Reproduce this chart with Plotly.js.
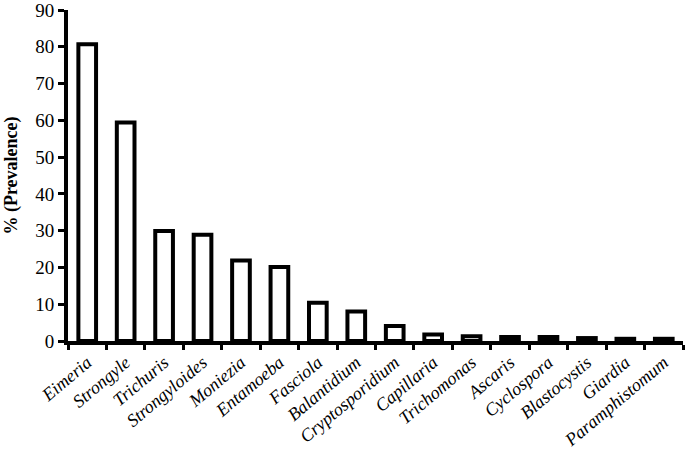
<!DOCTYPE html>
<html>
<head>
<meta charset="utf-8">
<script src="https://cdn.plot.ly/plotly-3.0.1.min.js"></script>
<style>body{margin:0}#chart{width:685px;height:458px}</style>
</head>
<body>
<div id="chart"></div>
<script>
const parasites = ["Eimeria", "Strongyle", "Trichuris", "Strongyloides", "Moniezia", "Entamoeba",
    "Fasciola", "Balantidium", "Cryptosporidium", "Capillaria", "Trichomonas", "Ascaris",
    "Cyclospora", "Blastocystis", "Giardia", "Paramphistomum"];
const prevalence = [80.7, 59.4, 29.9, 28.9, 21.9, 20.1, 10.4, 8.0, 4.1, 1.8, 1.3, 1.1, 1.1, 0.8, 0.6, 0.6];

const serif = "'Liberation Serif', 'Times New Roman', serif";

Plotly.newPlot("chart", [{
    x: parasites,
    y: prevalence,
    type: "bar",
    width: 0.46,
    marker: { color: "white", line: { color: "black", width: 4 } },
    hoverinfo: "x+y"
}], {
    width: 685, height: 458,
    margin: { l: 68, r: 2, t: 10, b: 117 },
    paper_bgcolor: "white", plot_bgcolor: "white",
    showlegend: false,
    font: { family: serif, color: "black", size: 19 },
    xaxis: {
        type: "category",
        showline: true, linewidth: 4, linecolor: "black",
        ticks: "outside", tickson: "boundaries", ticklen: 5, tickwidth: 3, tickcolor: "black",
        tickangle: -40,
        tickfont: { family: serif, size: 18, style: "italic" },
        showgrid: false, zeroline: false
    },
    yaxis: {
        range: [0, 90], dtick: 10,
        showline: true, linewidth: 4, linecolor: "black",
        ticks: "outside", ticklen: 6, tickwidth: 3, tickcolor: "black",
        tickfont: { family: serif, size: 19 },
        ticklabeloverflow: "allow",
        showgrid: false, zeroline: false,
        title: { text: "% (Prevalence)", font: { family: serif, size: 18, weight: "bold" }, standoff: 14 }
    }
}, { displayModeBar: false, responsive: false });
</script>
</body>
</html>
